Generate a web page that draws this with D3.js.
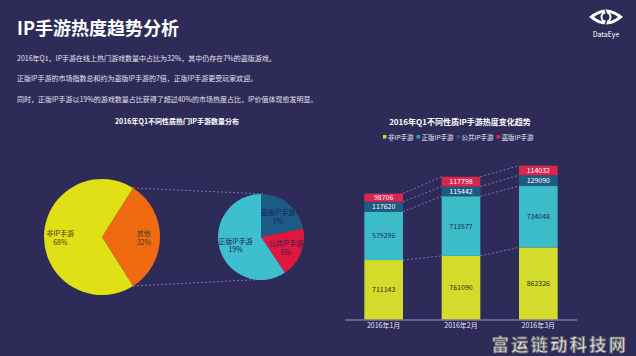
<!DOCTYPE html>
<html><head><meta charset="utf-8">
<script src="https://cdn.jsdelivr.net/npm/d3@7"></script>
<style>
html,body{margin:0;padding:0;background:#2f2b58;}
svg{display:block;font-family:"Noto Sans CJK SC","Noto Sans",sans-serif;}
</style></head>
<body>
<script>
// ---------- data ----------
const pageTitle = "IP手游热度趋势分析";
const notes = [
  "2016年Q1，IP手游在线上热门游戏数量中占比为32%，其中仍存在7%的盗版游戏。",
  "正版IP手游的市场指数总和约为盗版IP手游的7倍，正版IP手游更受玩家欢迎。",
  "同时，正版IP手游以19%的游戏数量占比获得了超过40%的市场热度占比，IP价值体现愈发明显。"
];
const pieTitle = "2016年Q1不同性质热门IP手游数量分布";
const bigPieLabels = ["其他", "非IP手游"];
const bigPieValues = [32, 68];
const smallPieLabels = ["盗版IP手游", "公共IP手游", "正版IP手游"];
const smallPieValues = [7, 6, 19];

const barTitle = "2016年Q1不同性质IP手游热度变化趋势";
const months = ["2016年1月", "2016年2月", "2016年3月"];
const seriesNames = ["非IP手游", "正版IP手游", "公共IP手游", "盗版IP手游"];
const nonIP   = [711143, 761090, 862326];
const bigIP   = [579296, 713577, 734048];
const midIP   = [117620, 115442, 129090];
const pirate  = [98706, 117798, 114032];
const watermark = "富运链动科技网";

// ---------- drawing ----------
const W = 636, H = 356;
const svg = d3.select("body").append("svg").attr("width", W).attr("height", H);
svg.append("rect").attr("width", W).attr("height", H).attr("fill", "#2f2b58");

// header
svg.append("text").attr("x", 17).attr("y", 35).attr("fill", "#ffffff")
  .attr("font-size", 18).attr("font-weight", "bold").text(pageTitle);
notes.forEach((t, i) => {
  svg.append("text").attr("x", 17).attr("y", [61, 81, 102][i])
    .attr("fill", "#e4e2f0").attr("font-size", 7).text(t);
});

// logo
const logo = svg.append("g").attr("transform", "translate(606,17)");
logo.append("path").attr("d", "M-17,0 Q0,-15 17,0 Q0,15 -17,0 Z").attr("fill", "#ffffff");
logo.append("path").attr("d", "M-12,0 Q0,-9 12,0 Q0,9 -12,0 Z").attr("fill", "#2f2b58");
logo.append("circle").attr("r", 4.5).attr("fill", "none").attr("stroke", "#ffffff").attr("stroke-width", 2);
logo.append("path").attr("d", "M-1,-7 Q3,0 -1,8").attr("stroke", "#2f2b58").attr("stroke-width", 1.5).attr("fill", "none");
svg.append("text").attr("x", 606).attr("y", 37).attr("text-anchor", "middle")
  .attr("fill", "#ffffff").attr("font-size", 7).text("DataEye");

// ----- pies -----
svg.append("text").attr("x", 177).attr("y", 124).attr("text-anchor", "middle")
  .attr("fill", "#ffffff").attr("font-size", 7).attr("font-weight", "bold").text(pieTitle);

const bigC = [102, 237], bigR = 58;
const smallC = [261, 237], smallR = 43;
const startBig = (90 - 57.6) * Math.PI / 180;

// connectors
const bigArcPts = [startBig, startBig + bigPieValues[0] / 100 * 2 * Math.PI];
const conn = [
  [[bigC[0] + bigR * Math.sin(bigArcPts[0]), bigC[1] - bigR * Math.cos(bigArcPts[0])], [smallC[0] + 4, smallC[1] - smallR]],
  [[bigC[0] + bigR * Math.sin(bigArcPts[1]), bigC[1] - bigR * Math.cos(bigArcPts[1])], [smallC[0] + 8, smallC[1] + smallR - 1]]
];
conn.forEach(c => svg.append("line")
  .attr("x1", c[0][0]).attr("y1", c[0][1]).attr("x2", c[1][0]).attr("y2", c[1][1])
  .attr("stroke", "#8c88bf").attr("stroke-width", 0.8).attr("stroke-dasharray", "2,2"));

const bigColors = ["#ef6a10", "#dfe015"];
const bigPie = d3.pie().sort(null).startAngle(startBig).endAngle(startBig + 2 * Math.PI)(bigPieValues);
const bigArc = d3.arc().innerRadius(0).outerRadius(bigR);
const bigLabelArc = d3.arc().innerRadius(bigR * 0.72).outerRadius(bigR * 0.72);
const gBig = svg.append("g").attr("transform", `translate(${bigC})`);
gBig.selectAll("path").data(bigPie).join("path").attr("d", bigArc).attr("fill", (d, i) => bigColors[i]);
gBig.selectAll("text").data(bigPie).join("text")
  .attr("transform", d => `translate(${bigLabelArc.centroid(d)})`)
  .attr("text-anchor", "middle").attr("font-size", 7).attr("fill", "#4a3a20")
  .each(function (d, i) {
    const t = d3.select(this);
    t.append("tspan").attr("x", 0).attr("dy", -1).text(bigPieLabels[i]);
    t.append("tspan").attr("x", 0).attr("dy", 8.5).text(bigPieValues[i] + "%");
  });

const smallColors = ["#1b5b85", "#e0173f", "#3dbfcf"];
const smallPie = d3.pie().sort(null)(smallPieValues);
const smallArc = d3.arc().innerRadius(0).outerRadius(smallR);
const smallLabelArc = d3.arc().innerRadius(smallR * 0.62).outerRadius(smallR * 0.62);
const gSmall = svg.append("g").attr("transform", `translate(${smallC})`);
gSmall.selectAll("path").data(smallPie).join("path").attr("d", smallArc).attr("fill", (d, i) => smallColors[i]);
gSmall.selectAll("text").data(smallPie).join("text")
  .attr("transform", d => `translate(${smallLabelArc.centroid(d)})`)
  .attr("text-anchor", "middle").attr("font-size", 7).attr("fill", "#1d2550")
  .each(function (d, i) {
    const t = d3.select(this);
    t.append("tspan").attr("x", 0).attr("dy", -1).text(smallPieLabels[i]);
    t.append("tspan").attr("x", 0).attr("dy", 8.5).text(smallPieValues[i] + "%");
  });

// ----- stacked bars -----
svg.append("text").attr("x", 460).attr("y", 125).attr("text-anchor", "middle")
  .attr("fill", "#ffffff").attr("font-size", 8).attr("font-weight", "bold").text(barTitle);

const barColors = ["#d3dc2b", "#3cbcc8", "#1d5c80", "#d8264f"];
const legendColors = ["#d3dc2b", "#3c9cb8", "#1d5c80", "#d8264f"];
// legend
let lx = 383;
const leg = svg.append("g");
seriesNames.forEach((n, i) => {
  leg.append("rect").attr("x", lx).attr("y", 135).attr("width", 3.5).attr("height", 3.5).attr("fill", legendColors[i]);
  const t = leg.append("text").attr("x", lx + 5).attr("y", 139.5).attr("fill", "#e8e6f4").attr("font-size", 6.5).text(n);
  lx += 5 + t.node().getComputedTextLength() + 3;
});

const rows = months.map((m, i) => ({ month: m, s0: nonIP[i], s1: bigIP[i], s2: midIP[i], s3: pirate[i] }));
const keys = ["s0", "s1", "s2", "s3"];
const stacked = d3.stack().keys(keys)(rows);

const x = d3.scaleBand().domain(months).range([345, 577]).paddingInner(0.5).paddingOuter(0.25);
const y = d3.scaleLinear().domain([0, 2000000]).range([319.5, 152.3]);

// dashed connectors between bars
stacked.forEach(layer => {
  for (let i = 0; i < months.length - 1; i++) {
    svg.append("line")
      .attr("x1", x(months[i]) + x.bandwidth()).attr("y1", y(layer[i][1]))
      .attr("x2", x(months[i + 1])).attr("y2", y(layer[i + 1][1]))
      .attr("stroke", "#8c88bf").attr("stroke-width", 0.8).attr("stroke-dasharray", "2,2");
  }
});

const labelColors = ["#2b2a20", "#1d2a55", "#ffffff", "#ffffff"];
stacked.forEach((layer, k) => {
  const g = svg.append("g");
  g.selectAll("rect").data(layer).join("rect")
    .attr("x", d => x(d.data.month)).attr("width", x.bandwidth())
    .attr("y", d => y(d[1])).attr("height", d => y(d[0]) - y(d[1]))
    .attr("fill", barColors[k]);
  g.selectAll("text").data(layer).join("text")
    .attr("x", d => x(d.data.month) + x.bandwidth() / 2)
    .attr("y", d => (y(d[0]) + y(d[1])) / 2 + 2.6)
    .attr("text-anchor", "middle").attr("font-size", 7).attr("fill", labelColors[k])
    .text(d => d[1] - d[0]);
});

// axis
const ax = svg.append("g").attr("transform", "translate(0,320)")
  .call(d3.axisBottom(x).tickSize(0).tickPadding(3));
ax.select(".domain").attr("stroke", "#9c99c8").attr("d", "M345,0H577");
ax.selectAll("text").attr("fill", "#e4e2f0").attr("font-size", 7)
  .attr("font-family", "'Noto Sans CJK SC', sans-serif");

// watermark
svg.append("text").attr("x", 560).attr("y", 350.5).attr("text-anchor", "middle")
  .attr("font-size", 17).attr("font-weight", "bold").attr("fill", "#e6e6e6")
  .attr("stroke", "#6a6a6a").attr("stroke-width", 0.8).attr("letter-spacing", 2.5)
  .text(watermark);
</script>
</body></html>
